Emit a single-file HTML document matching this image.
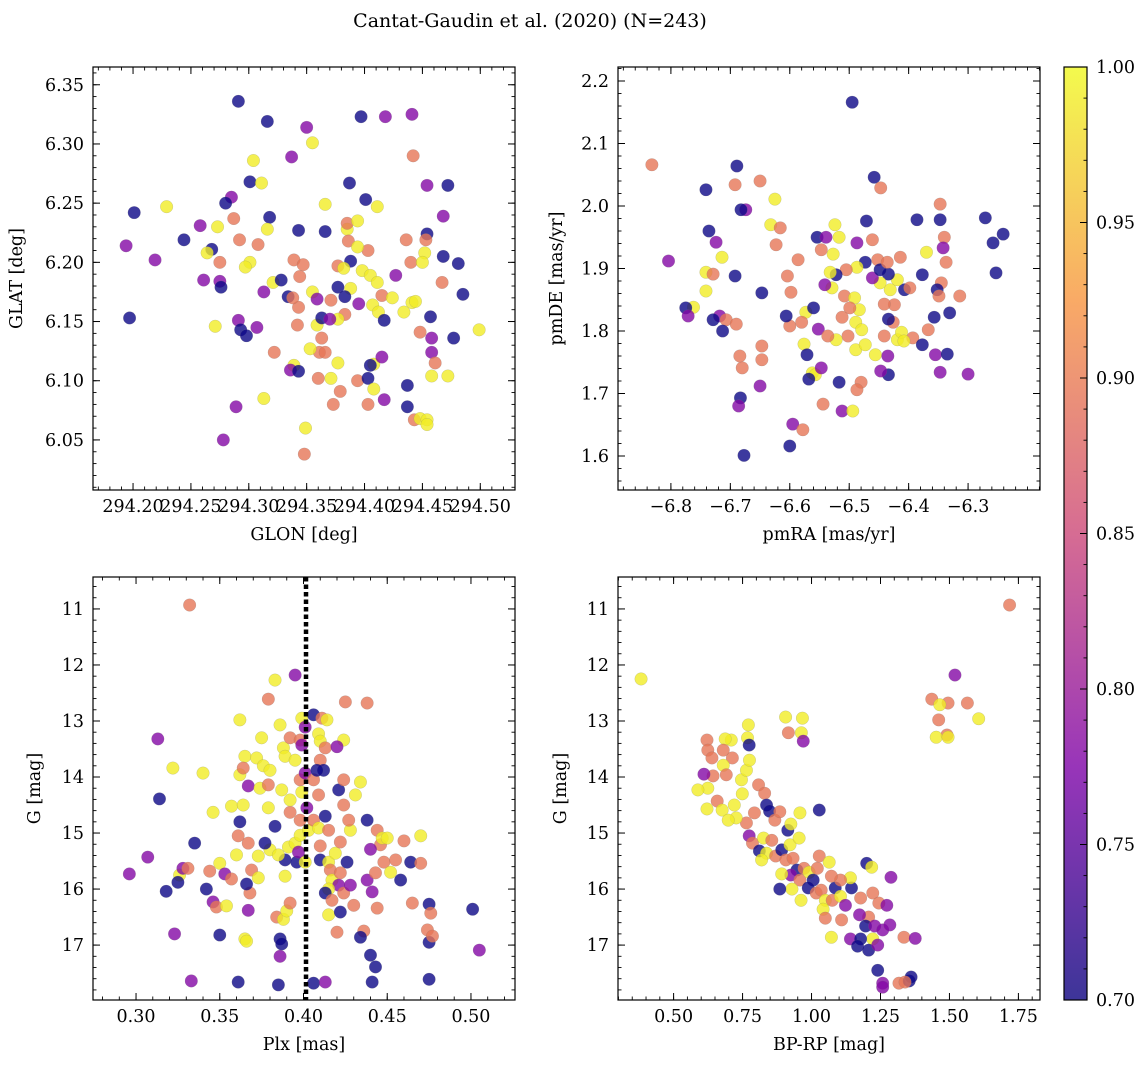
<!DOCTYPE html>
<html><head><meta charset="utf-8"><style>
body{margin:0;background:#fff;}
svg text{font-family:"DejaVu Serif","Liberation Serif",serif;fill:#000;}
</style></head><body>
<svg id="fig" width="1148" height="1067" xmlns="http://www.w3.org/2000/svg">
<defs><linearGradient id="cbg" x1="0" y1="1" x2="0" y2="0">
<stop offset="0" stop-color="#3d3599"/><stop offset="0.25" stop-color="#9835b9"/><stop offset="0.5" stop-color="#d66c93"/><stop offset="0.75" stop-color="#f9aa66"/><stop offset="1" stop-color="#f3fa4d"/></linearGradient></defs>
<text x="530" y="27" font-size="19" text-anchor="middle">Cantat-Gaudin et al. (2020) (N=243)</text>
</svg>
<script>
// color codes: D=0.70, P=0.78, R=0.895, O=0.92, Y=0.99
const colorLevels={D:0.70,P:0.78,R:0.895,O:0.92,Y:0.99};
const glonGlat=`294.291,6.336,D;294.316,6.319,D;294.418,6.323,P;294.441,6.325,P;294.397,6.323,D;294.350,6.314,P;294.355,6.301,Y;294.337,6.289,P;294.304,6.286,Y;294.442,6.290,R;294.201,6.242,D;294.229,6.247,Y;294.194,6.214,P;294.197,6.153,D;294.219,6.202,P;294.244,6.219,D;294.258,6.231,P;294.268,6.211,D;294.273,6.230,Y;294.285,6.255,P;294.280,6.250,D;294.301,6.268,D;294.311,6.267,Y;294.292,6.219,R;294.287,6.237,R;294.318,6.238,D;294.316,6.228,Y;294.308,6.215,R;294.301,6.200,Y;294.297,6.196,Y;294.275,6.200,R;294.264,6.208,Y;294.261,6.185,P;294.275,6.184,P;294.276,6.179,D;294.271,6.146,Y;294.291,6.151,P;294.293,6.143,D;294.298,6.138,D;294.307,6.145,P;294.313,6.175,P;294.321,6.183,Y;294.328,6.185,D;294.334,6.171,D;294.344,6.188,R;294.339,6.202,R;294.343,6.227,D;294.366,6.249,Y;294.366,6.226,D;294.347,6.198,R;294.355,6.175,Y;294.343,6.162,R;294.338,6.170,R;294.342,6.147,R;294.359,6.169,P;294.359,6.147,Y;294.363,6.153,D;294.371,6.168,R;294.377,6.179,D;294.377,6.197,R;294.385,6.228,Y;294.385,6.233,R;294.394,6.235,Y;294.386,6.218,R;294.388,6.201,D;294.382,6.195,Y;294.398,6.193,Y;294.403,6.210,R;294.405,6.189,Y;294.411,6.183,Y;294.415,6.172,R;294.407,6.164,Y;294.412,6.158,Y;294.417,6.151,D;294.424,6.170,Y;294.395,6.165,P;294.388,6.178,Y;294.383,6.171,D;294.383,6.156,R;294.377,6.152,Y;294.370,6.152,P;294.363,6.136,R;294.361,6.124,R;294.366,6.124,R;294.353,6.127,Y;294.339,6.113,Y;294.336,6.109,P;294.343,6.108,D;294.360,6.102,R;294.371,6.102,Y;294.377,6.115,Y;294.379,6.091,R;294.394,6.100,R;294.403,6.102,D;294.408,6.114,Y;294.408,6.093,Y;294.405,6.113,D;294.415,6.120,P;294.403,6.080,R;294.417,6.084,P;294.373,6.080,R;294.437,6.096,D;294.437,6.078,D;294.443,6.067,R;294.448,6.068,Y;294.454,6.067,Y;294.458,6.124,P;294.458,6.104,Y;294.472,6.104,Y;294.461,6.115,R;294.477,6.136,D;294.458,6.136,P;294.448,6.141,R;294.457,6.154,D;294.499,6.143,Y;294.485,6.173,D;294.481,6.199,D;294.468,6.205,D;294.454,6.224,D;294.468,6.239,P;294.472,6.265,D;294.454,6.265,P;294.452,6.208,Y;294.467,6.183,R;294.453,6.219,R;294.436,6.219,R;294.440,6.200,R;294.450,6.200,Y;294.441,6.166,Y;294.444,6.167,Y;294.434,6.158,Y;294.427,6.189,P;294.411,6.247,Y;294.387,6.267,D;294.401,6.253,D;294.394,6.213,Y;294.313,6.085,Y;294.289,6.078,P;294.278,6.050,P;294.348,6.038,R;294.349,6.060,Y;294.454,6.063,Y;294.322,6.124,R`;
const pmRaDe=`-6.495,2.166,D;-6.832,2.066,R;-6.689,2.064,D;-6.458,2.046,D;-6.741,2.026,D;-6.692,2.034,R;-6.650,2.040,R;-6.625,2.011,Y;-6.447,2.029,R;-6.736,1.960,D;-6.724,1.942,P;-6.674,1.994,P;-6.682,1.994,D;-6.714,1.918,Y;-6.804,1.912,P;-6.741,1.894,Y;-6.729,1.891,R;-6.692,1.888,D;-6.741,1.864,Y;-6.762,1.838,Y;-6.775,1.837,D;-6.718,1.824,P;-6.729,1.818,D;-6.707,1.818,R;-6.690,1.811,R;-6.713,1.800,D;-6.771,1.824,P;-6.680,1.741,R;-6.683,1.693,D;-6.686,1.680,P;-6.677,1.601,D;-6.600,1.616,D;-6.595,1.651,P;-6.578,1.642,R;-6.647,1.776,R;-6.647,1.754,R;-6.647,1.861,D;-6.623,1.938,R;-6.604,1.888,R;-6.586,1.914,R;-6.598,1.862,R;-6.573,1.830,Y;-6.560,1.837,D;-6.580,1.814,R;-6.552,1.803,P;-6.600,1.808,R;-6.606,1.824,D;-6.576,1.779,Y;-6.571,1.762,D;-6.562,1.733,Y;-6.557,1.730,Y;-6.547,1.741,P;-6.568,1.723,D;-6.544,1.683,R;-6.517,1.718,D;-6.512,1.672,P;-6.494,1.672,Y;-6.480,1.718,R;-6.487,1.706,R;-6.517,1.950,Y;-6.527,1.923,Y;-6.547,1.930,R;-6.554,1.950,D;-6.539,1.950,P;-6.524,1.970,Y;-6.487,1.941,P;-6.471,1.976,D;-6.461,1.946,R;-6.452,1.914,R;-6.473,1.910,D;-6.487,1.902,Y;-6.505,1.898,R;-6.522,1.890,D;-6.532,1.894,Y;-6.529,1.869,Y;-6.541,1.874,P;-6.508,1.856,R;-6.491,1.853,Y;-6.483,1.834,Y;-6.499,1.837,R;-6.512,1.822,R;-6.489,1.814,Y;-6.479,1.802,Y;-6.502,1.792,R;-6.522,1.786,Y;-6.536,1.792,R;-6.489,1.770,Y;-6.473,1.778,Y;-6.456,1.762,Y;-6.435,1.760,P;-6.434,1.730,D;-6.447,1.736,P;-6.441,1.792,R;-6.419,1.786,Y;-6.412,1.798,Y;-6.426,1.814,R;-6.434,1.819,D;-6.424,1.842,R;-6.441,1.843,R;-6.431,1.866,Y;-6.407,1.866,D;-6.398,1.869,R;-6.419,1.882,Y;-6.434,1.891,D;-6.448,1.877,Y;-6.461,1.885,P;-6.448,1.898,D;-6.436,1.910,R;-6.414,1.918,R;-6.377,1.890,D;-6.370,1.926,Y;-6.337,1.910,R;-6.345,1.877,R;-6.352,1.866,D;-6.349,1.856,R;-6.314,1.856,R;-6.331,1.829,D;-6.357,1.822,D;-6.367,1.802,R;-6.393,1.789,R;-6.408,1.784,Y;-6.377,1.778,D;-6.355,1.762,P;-6.335,1.763,D;-6.347,1.734,P;-6.300,1.731,P;-6.386,1.978,D;-6.347,1.978,D;-6.347,2.003,R;-6.340,1.950,R;-6.342,1.933,P;-6.271,1.981,D;-6.258,1.941,D;-6.241,1.955,D;-6.253,1.893,D;-6.632,1.970,Y;-6.616,1.965,R;-6.684,1.760,R;-6.650,1.712,P`;
const plxG=`0.332,10.93,R;0.395,12.18,P;0.383,12.27,Y;0.379,12.61,R;0.313,13.32,P;0.322,13.84,Y;0.296,15.73,P;0.307,15.43,P;0.314,14.39,D;0.318,16.04,D;0.323,16.80,P;0.326,15.75,Y;0.328,15.63,P;0.325,15.88,D;0.331,15.63,R;0.335,15.18,D;0.342,16.00,D;0.346,16.23,P;0.348,16.32,R;0.354,16.30,Y;0.350,16.82,D;0.344,15.68,R;0.350,15.54,Y;0.353,15.73,P;0.357,15.82,R;0.361,15.05,R;0.360,15.39,Y;0.362,13.96,Y;0.357,14.52,Y;0.364,14.50,Y;0.346,14.63,Y;0.340,13.93,Y;0.362,14.80,D;0.369,15.66,R;0.373,15.41,Y;0.367,15.18,R;0.365,13.63,Y;0.362,12.98,Y;0.364,13.84,R;0.367,14.16,P;0.372,13.66,Y;0.375,13.30,Y;0.374,14.20,Y;0.376,13.80,Y;0.380,13.88,Y;0.379,14.14,R;0.379,14.55,Y;0.383,14.88,D;0.380,15.30,Y;0.377,15.18,D;0.373,15.80,Y;0.368,16.07,R;0.367,16.38,P;0.366,15.91,D;0.365,16.89,Y;0.366,16.93,Y;0.361,17.66,D;0.333,17.64,P;0.386,17.20,P;0.386,16.89,D;0.387,16.98,D;0.385,17.71,D;0.384,16.50,R;0.388,16.54,Y;0.390,16.39,Y;0.392,16.25,R;0.389,15.77,Y;0.389,15.48,D;0.385,15.39,Y;0.391,15.25,Y;0.395,15.18,Y;0.396,15.52,D;0.397,15.34,P;0.398,15.04,Y;0.398,14.77,R;0.392,14.63,R;0.392,14.41,Y;0.387,14.23,Y;0.388,13.48,Y;0.386,13.07,Y;0.392,13.30,R;0.389,13.63,Y;0.395,13.70,Y;0.398,13.34,R;0.399,12.95,Y;0.399,13.43,P;0.398,14.05,R;0.399,14.27,Y;0.401,13.93,P;0.401,13.11,P;0.402,14.55,P;0.403,14.95,Y;0.401,15.52,Y;0.406,14.05,R;0.409,14.32,R;0.410,13.70,R;0.409,13.23,Y;0.406,12.89,D;0.411,12.95,R;0.414,12.98,Y;0.410,13.36,Y;0.413,13.48,R;0.412,13.88,D;0.408,13.88,D;0.406,14.77,R;0.409,14.91,Y;0.413,14.70,D;0.415,14.95,R;0.410,15.23,R;0.410,15.48,D;0.415,15.52,Y;0.416,15.66,R;0.419,15.36,Y;0.417,15.84,Y;0.422,15.71,R;0.421,15.93,P;0.415,16.00,Y;0.413,16.07,D;0.417,16.20,R;0.424,16.07,R;0.415,16.46,Y;0.422,16.41,D;0.420,16.77,R;0.406,17.68,D;0.413,17.66,P;0.436,16.75,R;0.434,16.86,D;0.440,17.18,D;0.443,17.39,D;0.441,17.66,D;0.438,15.84,P;0.441,16.05,P;0.444,16.34,R;0.430,16.29,R;0.428,15.93,P;0.426,15.52,D;0.422,15.16,R;0.428,14.95,Y;0.424,14.50,R;0.421,14.23,D;0.424,14.05,R;0.424,13.34,Y;0.420,13.46,P;0.425,12.66,R;0.438,12.68,R;0.427,14.77,R;0.431,14.32,Y;0.434,14.09,Y;0.438,14.77,D;0.444,14.95,R;0.446,15.21,R;0.440,15.29,P;0.443,15.71,R;0.447,15.09,Y;0.450,15.09,Y;0.448,15.52,R;0.452,15.70,Y;0.455,15.48,R;0.458,15.84,D;0.460,15.14,R;0.470,15.05,Y;0.464,15.52,D;0.470,15.54,R;0.465,16.25,R;0.475,16.27,D;0.476,16.43,R;0.475,16.95,D;0.475,17.61,D;0.474,16.73,R;0.477,16.84,R;0.501,16.36,D;0.505,17.09,P`;
const bprpG=`0.382,12.25,Y;1.718,10.93,R;1.520,12.18,P;1.436,12.61,R;1.495,12.68,R;1.565,12.68,R;1.606,12.96,Y;1.465,12.71,Y;1.461,12.98,R;1.491,13.25,R;1.452,13.29,Y;1.495,13.29,Y;0.906,12.93,Y;0.967,12.95,Y;0.963,13.21,Y;0.970,13.36,P;0.916,13.21,R;0.771,13.07,Y;0.768,13.30,Y;0.774,13.43,D;0.709,13.34,Y;0.687,13.32,Y;0.621,13.34,R;0.624,13.52,R;0.639,13.66,R;0.680,13.52,R;0.713,13.66,R;0.680,13.79,Y;0.691,13.96,R;0.643,13.98,R;0.610,13.95,P;0.624,14.20,Y;0.588,14.23,Y;0.621,14.57,Y;0.658,14.43,R;0.676,14.59,Y;0.720,14.50,Y;0.749,14.30,Y;0.746,14.05,Y;0.764,13.88,Y;0.775,13.70,Y;0.808,14.14,R;0.830,14.29,R;0.837,14.50,D;0.848,14.61,D;0.867,14.77,R;0.885,14.62,R;0.793,14.64,R;0.764,14.82,R;0.727,14.73,Y;0.698,14.77,Y;0.774,15.05,P;0.786,15.18,R;0.811,15.32,D;0.826,15.09,Y;0.856,15.13,R;0.837,15.36,Y;0.819,15.48,Y;0.870,15.41,R;0.892,15.30,D;0.922,15.21,Y;0.914,14.95,D;0.907,15.48,R;0.933,15.45,R;0.947,15.66,D;0.925,15.75,P;0.892,15.73,Y;0.958,15.84,R;0.973,15.63,R;0.991,15.70,Y;1.006,15.84,D;1.021,15.63,R;1.028,15.41,R;0.988,15.98,D;1.017,16.07,R;1.035,16.02,R;1.050,16.20,Y;1.042,16.36,Y;1.075,16.20,R;1.086,15.98,D;1.105,16.13,Y;1.123,16.29,P;1.145,15.98,D;1.141,15.80,Y;1.105,15.84,R;1.072,15.77,R;1.064,15.52,Y;1.028,14.59,D;0.925,14.84,Y;0.958,14.64,Y;0.955,15.09,Y;1.200,15.54,D;1.178,16.16,R;1.222,16.07,R;1.244,16.25,R;1.273,16.29,P;1.207,16.50,R;1.174,16.46,P;1.196,16.66,D;1.229,16.66,P;1.258,16.73,P;1.284,16.64,P;1.222,16.89,Y;1.141,16.89,P;1.072,16.86,Y;1.178,16.89,D;1.167,17.02,D;1.207,17.09,D;1.240,17.00,P;1.335,16.86,R;1.376,16.88,P;1.240,17.45,D;1.258,17.68,P;1.258,17.75,P;1.317,17.68,R;1.354,17.64,D;1.361,17.57,D;1.339,17.66,R;1.218,15.61,Y;1.288,15.79,P;0.962,16.20,Y;0.929,16.00,Y;0.885,16.00,D;1.109,16.55,R;1.050,16.52,R`;
const glonTicks=[294.20,294.25,294.30,294.35,294.40,294.45,294.50];
const glatTicks=[6.05,6.10,6.15,6.20,6.25,6.30,6.35];
const pmraTicks=[-6.8,-6.7,-6.6,-6.5,-6.4,-6.3];
const pmdeTicks=[1.6,1.7,1.8,1.9,2.0,2.1,2.2];
const plxTicks=[0.30,0.35,0.40,0.45,0.50];
const gTicks=[11,12,13,14,15,16,17];
const bprpTicks=[0.50,0.75,1.00,1.25,1.50,1.75];
const cbarTicks=[0.70,0.75,0.80,0.85,0.90,0.95,1.00];
const plxRef=0.4015;

const NS='http://www.w3.org/2000/svg';
const svg=document.getElementById('fig');
const FS=17.5;
function el(tag,attrs,parent){const e=document.createElementNS(NS,tag);for(const k in attrs)e.setAttribute(k,attrs[k]);(parent||svg).appendChild(e);return e;}
function parse(s){return s.split(';').map(t=>{const p=t.split(',');return [parseFloat(p[0]),parseFloat(p[1]),colorLevels[p[2]]];});}
const stops=[[0,[13,8,135]],[0.25,[126,3,168]],[0.5,[204,71,120]],[0.75,[248,149,64]],[1,[240,249,33]]];
function plasma(v){let t=(v-0.7)/0.3;t=Math.max(0,Math.min(1,t));for(let i=0;i<stops.length-1;i++){const a=stops[i],b=stops[i+1];if(t<=b[0]){const f=(t-a[0])/(b[0]-a[0]);return 'rgb('+a[1].map((c,j)=>Math.round(c+(b[1][j]-c)*f)).join(',')+')';}}return 'rgb(240,249,33)';}
function fmt(v,d){return v.toFixed(d).replace('-','\u2212');}

function panel(name,box,xr,yr,xt,yt,xd,yd,xminor,yminor,xlab,ylab,pts,ylabx){
  const [L,T,R,B]=box;
  const sx=v=>L+(v-xr[0])/(xr[1]-xr[0])*(R-L);
  const sy=v=>B-(v-yr[0])/(yr[1]-yr[0])*(B-T);
  const g=el('g',{});
  
  
  pts.forEach(p=>{const c=el('circle',{cx:sx(p[0]),cy:sy(p[1]),r:6.3,fill:plasma(p[2]),'fill-opacity':0.8,stroke:'#777','stroke-opacity':0.35,'stroke-width':0.5},g);
    
    });
  const ax=el('g',{},g);
  
  
  el('rect',{x:L,y:T,width:R-L,height:B-T,fill:'none',stroke:'#000','stroke-width':1.2},ax);
  const lo=Math.min(xr[0],xr[1]),hi=Math.max(xr[0],xr[1]);
  for(let v=Math.ceil(lo/xminor)*xminor;v<=hi;v+=xminor){const x=sx(v);el('line',{x1:x,x2:x,y1:B,y2:B-3.5,stroke:'#000','stroke-width':0.9},ax);el('line',{x1:x,x2:x,y1:T,y2:T+3.5,stroke:'#000','stroke-width':0.9},ax);}
  const ylo=Math.min(yr[0],yr[1]),yhi=Math.max(yr[0],yr[1]);
  for(let v=Math.ceil(ylo/yminor)*yminor;v<=yhi;v+=yminor){const y=sy(v);el('line',{y1:y,y2:y,x1:L,x2:L+3.5,stroke:'#000','stroke-width':0.9},ax);el('line',{y1:y,y2:y,x1:R,x2:R-3.5,stroke:'#000','stroke-width':0.9},ax);}
  xt.forEach(v=>{const x=sx(v);el('line',{x1:x,x2:x,y1:B,y2:B-7,stroke:'#000','stroke-width':1},ax);el('line',{x1:x,x2:x,y1:T,y2:T+7,stroke:'#000','stroke-width':1},ax);
    const t=el('text',{x:x,y:B+22,'font-size':FS,'text-anchor':'middle'},ax);t.textContent=fmt(v,xd);
    
    });
  yt.forEach(v=>{const y=sy(v);el('line',{y1:y,y2:y,x1:L,x2:L+7,stroke:'#000','stroke-width':1},ax);el('line',{y1:y,y2:y,x1:R,x2:R-7,stroke:'#000','stroke-width':1},ax);
    const t=el('text',{x:L-9,y:y+6,'font-size':FS,'text-anchor':'end'},ax);t.textContent=fmt(v,yd);
    
    });
  const xl=el('text',{x:(L+R)/2,y:B+50,'font-size':FS,'text-anchor':'middle'},g);xl.textContent=xlab;
  
  
  const yl=el('text',{x:ylabx,y:(T+B)/2,'font-size':FS,'text-anchor':'middle',transform:'rotate(-90 '+ylabx+' '+(T+B)/2+')'},g);yl.textContent=ylab;
  
  
  return {sx,sy,g};
}
panel('glon-glat',[93,67,515,490],[294.1654,294.530],[6.0077,6.365],glonTicks,glatTicks,2,2,0.01,0.01,'GLON [deg]','GLAT [deg]',parse(glonGlat),22);
panel('pm',[618,67,1040,490],[-6.889,-6.179],[1.5456,2.2224],pmraTicks,pmdeTicks,1,1,0.02,0.02,'pmRA [mas/yr]','pmDE [mas/yr]',parse(pmRaDe),562);
const bl=panel('plx-g',[93,577,515,1000],[0.2743,0.5263],[17.98,10.43],plxTicks,gTicks,2,0,0.01,0.2,'Plx [mas]','G [mag]',parse(plxG),40);
panel('cmd',[618,577,1040,1000],[0.2984,1.8283],[17.98,10.43],bprpTicks,gTicks,2,0,0.05,0.2,'BP-RP [mag]','G [mag]',parse(bprpG),566);
const ref=el('line',{x1:bl.sx(plxRef),x2:bl.sx(plxRef),y1:577,y2:1000,stroke:'#000','stroke-width':4.5,'stroke-dasharray':'4.5,3'},bl.g);


// colorbar
const cb=el('g',{});


el('rect',{x:1064,y:67,width:23,height:933,fill:'url(#cbg)',stroke:'#000','stroke-width':1.2},cb);
const cy=v=>1000-(v-0.70)/0.30*933;
for(let v=0.70;v<=1.0001;v+=0.01){el('line',{x1:1087,x2:1083.5,y1:cy(v),y2:cy(v),stroke:'#000','stroke-width':0.9},cb);}
cbarTicks.forEach(v=>{el('line',{x1:1087,x2:1080,y1:cy(v),y2:cy(v),stroke:'#000','stroke-width':1},cb);
  const t=el('text',{x:1096,y:cy(v)+6,'font-size':FS},cb);t.textContent=v.toFixed(2);
  
  });
</script>
</body></html>
